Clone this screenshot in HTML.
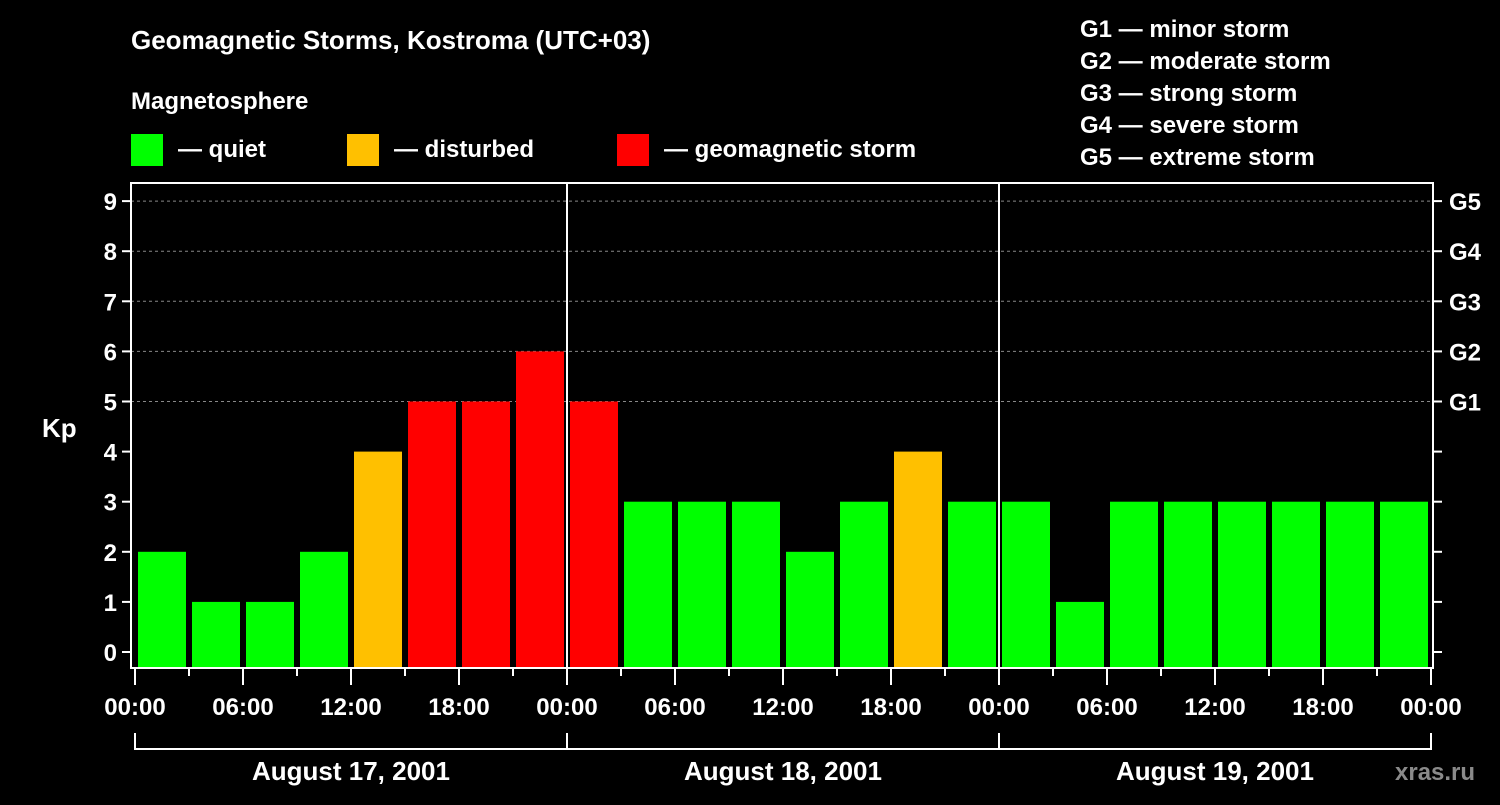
<!DOCTYPE html>
<html><head><meta charset="utf-8"><style>
body{margin:0;background:#000;width:1500px;height:800px;overflow:hidden}
svg text{font-family:"Liberation Sans",Arial,sans-serif;font-weight:bold;fill:#fff}
</style></head><body>
<svg id="c" width="1500" height="800">
<text x="131" y="49" font-size="26">Geomagnetic Storms, Kostroma (UTC+03)</text>
<text x="131" y="109" font-size="24">Magnetosphere</text>
<g><rect x="131" y="134" width="32" height="32" fill="#00ff00"/><text x="178" y="157" font-size="24">— quiet</text></g>
<g><rect x="347" y="134" width="32" height="32" fill="#ffc000"/><text x="394" y="157" font-size="24">— disturbed</text></g>
<g><rect x="617" y="134" width="32" height="32" fill="#ff0000"/><text x="664" y="157" font-size="24">— geomagnetic storm</text></g>
<g font-size="24">
<text x="1080" y="37">G1 — minor storm</text><text x="1080" y="69">G2 — moderate storm</text><text x="1080" y="101">G3 — strong storm</text><text x="1080" y="133">G4 — severe storm</text><text x="1080" y="165">G5 — extreme storm</text></g>
<text x="42" y="437" font-size="26">Kp</text>
<text x="1395" y="780" font-size="24" fill="#888" style="fill:#8a8a8a">xras.ru</text>
<g id="plot"></g>
</svg>
<script>
const days=["August 17, 2001","August 18, 2001","August 19, 2001"];
const kp=[2,1,1,2,4,5,5,6, 5,3,3,3,2,3,4,3, 3,1,3,3,3,3,3,3];
const yTicks=[0,1,2,3,4,5,6,7,8,9];
const gLabels=["G1","G2","G3","G4","G5"];
const xLabels=["00:00","06:00","12:00","18:00"];
const ns="http://www.w3.org/2000/svg";
const g=document.getElementById('plot');
const L=131,R=1433,T=183,B=668,X0=135,slot=54;
const y=v=>652-v*50.1;
const x=i=>X0+i*slot;
function mk(t,a,p){const e=document.createElementNS(ns,t);for(const k in a)e.setAttribute(k,a[k]);(p||g).appendChild(e);return e;}
// grid
yTicks.forEach(v=>{if(v>=5){const l=mk('line',{x1:L,x2:R,y1:y(v),y2:y(v),stroke:'#888','stroke-dasharray':'3,3','stroke-width':1});

}});
// bars
kp.forEach((v,i)=>{const c=v>=5?'#ff0000':v>=4?'#ffc000':'#00ff00';
const r=mk('rect',{x:x(i)+3,y:y(v),width:slot-6,height:B-1-y(v),fill:c});

});
// frame
mk('rect',{x:L,y:T,width:R-L,height:B-T,fill:'none',stroke:'#fff','stroke-width':2});
// day separators
for(let d=1;d<days.length;d++){mk('line',{x1:x(d*8),x2:x(d*8),y1:T,y2:B,stroke:'#fff','stroke-width':2});}
// y ticks
yTicks.forEach(v=>{mk('line',{x1:L-9,x2:L,y1:y(v),y2:y(v),stroke:'#fff','stroke-width':2});
mk('line',{x1:R,x2:R+9,y1:y(v),y2:y(v),stroke:'#fff','stroke-width':2});
const t=mk('text',{x:L-14,y:y(v)+9,'font-size':24,'text-anchor':'end'});t.textContent=v;


if(v>=5){const gt=mk('text',{x:R+16,y:y(v)+9,'font-size':24});gt.textContent=gLabels[v-5];

}});
// x ticks
for(let i=0;i<=kp.length;i++){const maj=i%2==0;
mk('line',{x1:x(i),x2:x(i),y1:B,y2:B+(maj?17:8),stroke:'#fff','stroke-width':2});
if(maj){const t=mk('text',{x:x(i),y:715,'font-size':24,'text-anchor':'middle'});t.textContent=xLabels[(i/2)%4];

}}
// day brackets
days.forEach((d,k)=>{const a=x(k*8),b=x(k*8+8);
mk('line',{x1:a,x2:b,y1:749,y2:749,stroke:'#fff','stroke-width':2});
mk('line',{x1:a,x2:a,y1:733,y2:750,stroke:'#fff','stroke-width':2});
mk('line',{x1:b,x2:b,y1:733,y2:750,stroke:'#fff','stroke-width':2});
const t=mk('text',{x:(a+b)/2,y:780,'font-size':26,'text-anchor':'middle'});t.textContent=d;

});
</script>
</body></html>
